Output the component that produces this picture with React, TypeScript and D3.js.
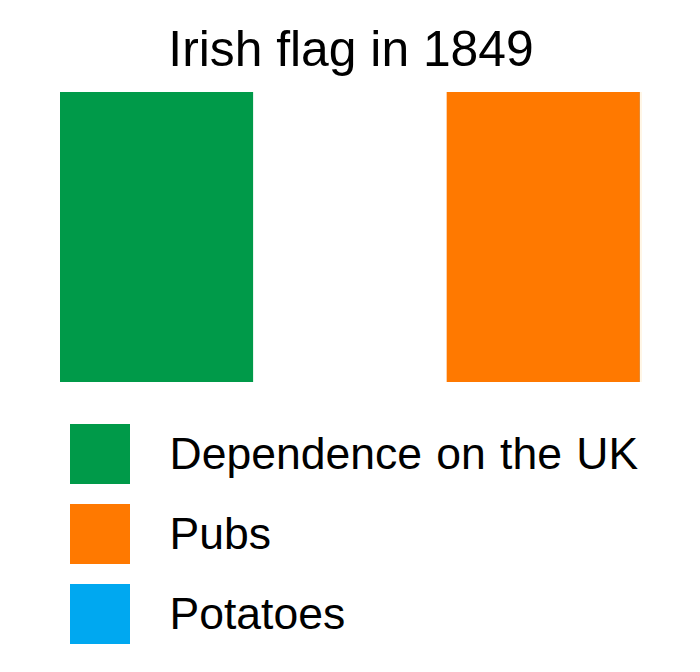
import React from 'react';
import * as d3 from 'd3';

const title = 'Irish flag in 1849';
const stripes = ['green', 'white', 'orange'];
const legendLabels = ['Dependence on the UK', 'Pubs', 'Potatoes'];
const legendKeys = ['green', 'orange', 'blue'];

const colors: Record<string, string> = {
  green: '#009a49',
  white: '#ffffff',
  orange: '#ff7900',
  blue: '#00a8f0',
};

const FONT = '"Liberation Sans", Arial, sans-serif';

const App: React.FC = () => {
  const x = d3.scaleBand<string>().domain(stripes).range([60, 640]);
  const legendY = d3.scaleBand<string>().domain(legendLabels).range([424, 664]);
  const flagRight = (x('orange') as number) + x.bandwidth();

  return (
    <svg
      width={700}
      height={672}
      viewBox="0 0 700 672"
      style={{ position: 'absolute', left: 0, top: 0, display: 'block', background: '#fff' }}
    >
      <text x={351} y={66} textAnchor="middle" fontFamily={FONT} fontSize={49.8}>
        {title}
      </text>
      {stripes.map(s => (
        <rect key={s} x={x(s)} y={92} width={x.bandwidth()} height={290} fill={colors[s]} />
      ))}
      {/* darker seam and pale fringe on the right edge of the orange stripe */}
      <rect x={flagRight - 1} y={92} width={1} height={290} fill="#e68a33" />
      <rect x={flagRight} y={92} width={2} height={290} fill="#fff6e6" />
      {legendLabels.map((label, i) => (
        <g key={label} transform={`translate(70,${legendY(label)})`}>
          <rect width={60} height={60} fill={colors[legendKeys[i]]} />
          <text x={99.5} y={45} fontFamily={FONT} fontSize={44.5} wordSpacing={2}>
            {label}
          </text>
        </g>
      ))}
    </svg>
  );
};

export default App;
